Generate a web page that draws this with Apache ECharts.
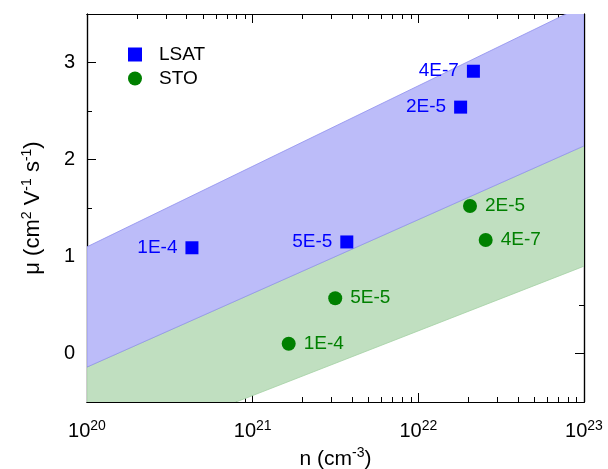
<!DOCTYPE html>
<html>
<head>
<meta charset="utf-8">
<script src="https://cdn.jsdelivr.net/npm/echarts@6/dist/echarts.min.js"></script>
<style>html,body{margin:0;padding:0;background:#fff;}#c{width:608px;height:469px;}</style>
</head>
<body>
<div id="c"></div>
<script>
// ---- data ----
const lsatN = [4.3e20, 3.7e21, 1.8e22, 2.15e22];
const lsatMu = [1.09, 1.15, 2.54, 2.91];
const lsatLabels = ['1E-4', '5E-5', '2E-5', '4E-7'];

const stoN = [1.65e21, 3.15e21, 2.05e22, 2.55e22];
const stoMu = [0.10, 0.57, 1.52, 1.17];
const stoLabels = ['1E-4', '5E-5', '2E-5', '4E-7'];

// band edges (straight lines on log-x), evaluated at the axis ends
const bandN = [1e20, 1e23];
const lsatBandUpper = [1.10, 3.59];
const lsatBandLower = [-0.14, 2.14];
const stoBandLower = [-1.10, 0.90];

const xMajor = [1e20, 1e21, 1e22, 1e23];
const yMajor = [0, 1, 2, 3];
const yMinor = [0.5, 1.5, 2.5];
const xMinor = [];
[1e20, 1e21, 1e22].forEach(d => { for (let m = 2; m <= 9; m++) xMinor.push(m * d); });

const FONT = 'Liberation Sans, Arial, sans-serif';
const X_MIN = 1e20, X_MAX = 1e23 * 1.000001; // tiny pad so the 10^23 tick survives float rounding

const chart = echarts.init(document.getElementById('c'), null, {renderer: 'canvas'});

function mkX(pos, ticks, len, showLabel) {
  return {
    type: 'log', position: pos, min: X_MIN, max: X_MAX, logBase: 10,
    axisLine: {show: true, onZero: false, lineStyle: {color: '#000', width: 1.2}},
    axisTick: {show: true, inside: true, length: len, customValues: ticks, lineStyle: {color: '#000', width: 1}},
    splitLine: {show: false}, minorTick: {show: false},
    axisLabel: showLabel ? {
      show: true, customValues: xMajor, margin: 17,
      formatter: v => '{b|10}{s|' + Math.round(Math.log10(v)) + '}',
      rich: {
        b: {fontSize: 20, fontFamily: FONT, color: '#000'},
        s: {fontSize: 14, fontFamily: FONT, color: '#000', padding: [0, 0, 11, 0]}
      }
    } : {show: false},
    name: showLabel ? '{t|n (cm}{s|-3}{t|)}' : '',
    nameLocation: 'middle', nameGap: 40,
    nameTextStyle: {
      rich: {
        t: {fontSize: 21, fontFamily: FONT, color: '#000'},
        s: {fontSize: 14, fontFamily: FONT, color: '#000', padding: [0, 0, 12, 0]}
      }
    }
  };
}
function mkY(pos, ticks, len, showLabel) {
  return {
    type: 'value', position: pos, min: -0.5, max: 3.5,
    axisLine: {show: true, onZero: false, lineStyle: {color: '#000', width: 1.2}},
    axisTick: {show: true, inside: true, length: len, customValues: ticks, lineStyle: {color: '#000', width: 1}},
    splitLine: {show: false},
    axisLabel: showLabel ? {
      show: true, customValues: yMajor, margin: 12,
      fontSize: 20, fontFamily: FONT, color: '#000'
    } : {show: false},
    name: showLabel ? '{t|μ (cm}{s|2}{t| V}{s|-1}{t| s}{s|-1}{t|)}' : '',
    nameLocation: 'middle', nameGap: 41, nameRotate: 90,
    nameTextStyle: {
      rich: {
        t: {fontSize: 22, fontFamily: FONT, color: '#000'},
        s: {fontSize: 14, fontFamily: FONT, color: '#000', padding: [0, 0, 12, 0]}
      }
    }
  };
}

const bands = [
  {upper: lsatBandLower, lower: stoBandLower, fill: '#c0dfc0', stroke: '#a3d0a3'},
  {upper: lsatBandUpper, lower: lsatBandLower, fill: '#bcbcf9', stroke: '#8f8fee'}
];

const option = {
  animation: false,
  backgroundColor: '#fff',
  grid: {left: 87, right: 24, top: 14, bottom: 67, containLabel: false, outerBoundsMode: 'none'},
  xAxis: [
    mkX('bottom', xMajor, 9, true),
    mkX('bottom', xMinor, 5, false),
    mkX('top', xMajor, 9, false),
    mkX('top', xMinor, 5, false)
  ],
  yAxis: [
    mkY('left', yMajor, 9, true),
    mkY('left', yMinor, 5, false),
    mkY('right', yMajor, 9, false),
    mkY('right', yMinor, 5, false)
  ],
  legend: {
    orient: 'vertical', left: 123, top: 40, itemGap: 5,
    itemWidth: 14, itemHeight: 14,
    textStyle: {fontSize: 19, fontFamily: FONT, color: '#000', padding: [0, 0, 0, 12]},
    data: [{name: 'LSAT', icon: 'rect'}, {name: 'STO', icon: 'circle'}]
  },
  series: [
    {
      type: 'custom', name: 'bands', xAxisIndex: 0, yAxisIndex: 0, clip: true, z: 1,
      data: bands.map((b, i) => [bandN[0], b.lower[0], i]),
      renderItem: function (params, api) {
        const b = bands[params.dataIndex];
        const pts = [
          api.coord([bandN[0], b.upper[0]]),
          api.coord([bandN[1], b.upper[1]]),
          api.coord([bandN[1], b.lower[1]]),
          api.coord([bandN[0], b.lower[0]])
        ];
        return {
          type: 'polygon', shape: {points: pts},
          style: {fill: b.fill, stroke: b.stroke, lineWidth: 0.8}
        };
      },
      silent: true
    },
    {
      type: 'scatter', name: 'LSAT', xAxisIndex: 0, yAxisIndex: 0, z: 5,
      symbol: 'rect', symbolSize: 13,
      itemStyle: {color: '#0000ff', opacity: 1},
      data: lsatN.map((n, i) => ({value: [n, lsatMu[i]], label: {formatter: lsatLabels[i]}})),
      label: {show: true, position: 'left', distance: 8, color: '#0000ff', fontSize: 19, fontFamily: FONT}
    },
    {
      type: 'scatter', name: 'STO', xAxisIndex: 0, yAxisIndex: 0, z: 5,
      symbol: 'circle', symbolSize: 14,
      itemStyle: {color: '#008000', opacity: 1},
      data: stoN.map((n, i) => ({value: [n, stoMu[i]], label: {formatter: stoLabels[i]}})),
      label: {show: true, position: 'right', distance: 8, color: '#008000', fontSize: 19, fontFamily: FONT}
    }
  ]
};
chart.setOption(option);
</script>
</body>
</html>
